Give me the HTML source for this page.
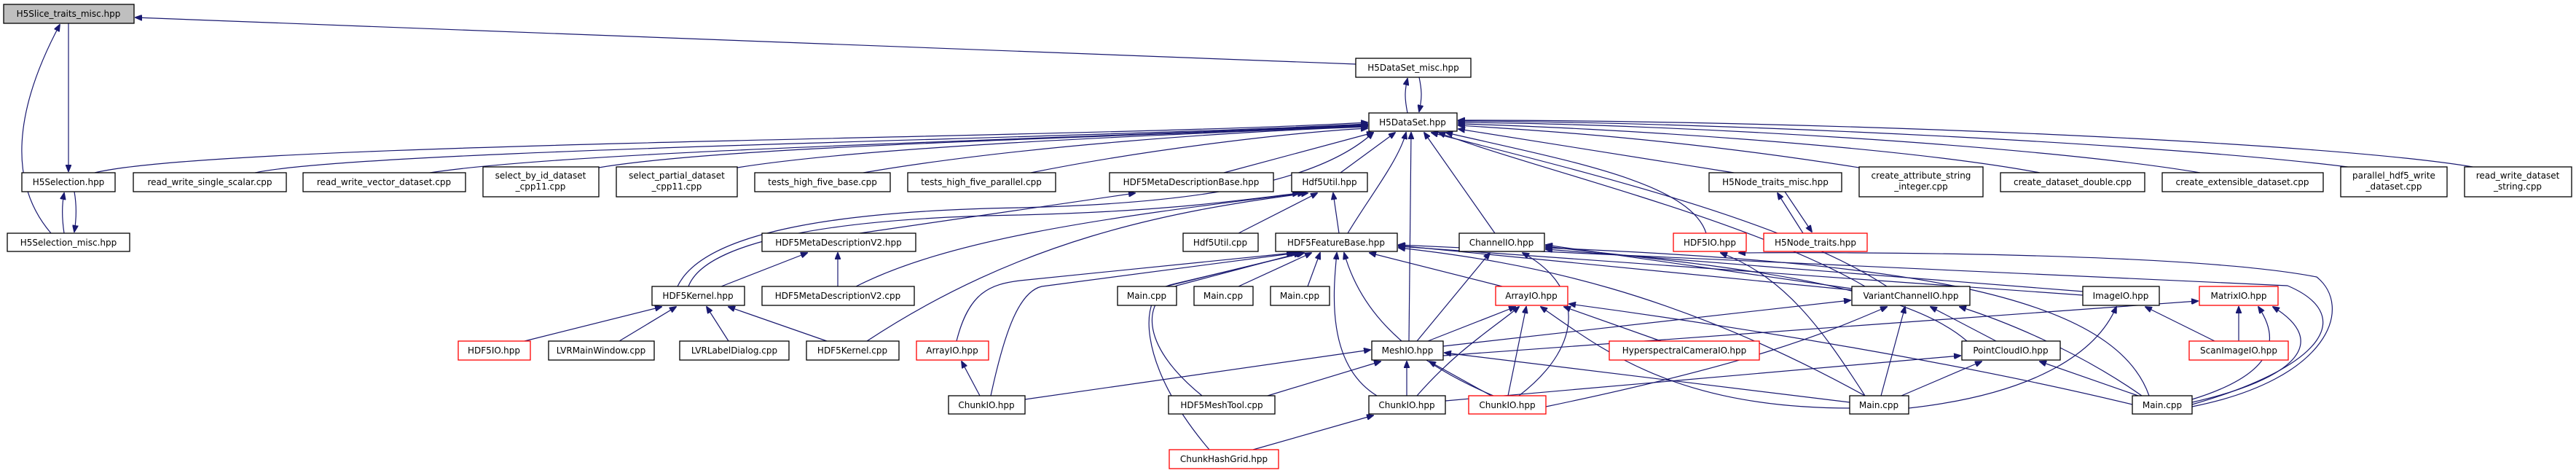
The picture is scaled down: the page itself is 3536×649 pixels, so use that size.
<!DOCTYPE html>
<html><head><meta charset="utf-8"><style>
html,body{margin:0;padding:0;background:#fff;}
svg{display:block;}
text{font-family:"DejaVu Sans","Liberation Sans",sans-serif;font-size:12px;fill:#000;text-anchor:middle;}
.n{fill:#fff;stroke:#000;stroke-width:1.3;}
.r{fill:#fff;stroke:#ff0000;stroke-width:1.3;}
.g{fill:#bfbfbf;stroke:#000;stroke-width:1.3;}
path{fill:none;stroke:#191970;stroke-width:1.2;marker-end:url(#ah);}
</style></head><body>
<svg width="3536" height="649" viewBox="0 0 3536 649" xmlns="http://www.w3.org/2000/svg">
<defs><marker id="ah" markerWidth="10" markerHeight="8" refX="9" refY="4" orient="auto" markerUnits="userSpaceOnUse"><polygon points="0,0 10,4 0,8" fill="#191970" stroke="#191970"/></marker></defs>
<g>
<path d="M1861,88 L186,24"/>
<path d="M94,32 L94,235"/>
<path d="M70,320 C10,250 20,150 82,34"/>
<path d="M88,320 C85,300 85,280 88,265"/>
<path d="M102,263 C105,280 105,300 102,318"/>
<path d="M1932,155 C1928,135 1928,125 1932,108"/>
<path d="M1948,106 C1952,125 1952,135 1948,153"/>
<path d="M130,237 C300,195 1500,190 1877,168"/>
<path d="M350,237 C500,205 1500,190 1877,170"/>
<path d="M590,237 C800,205 1500,190 1877,171"/>
<path d="M822,230 C1000,200 1500,190 1877,172"/>
<path d="M1012,230 C1200,200 1600,185 1877,173"/>
<path d="M1185,237 C1400,200 1700,180 1877,174"/>
<path d="M1415,237 C1600,200 1800,180 1877,176"/>
<path d="M1680,237 L1885,182"/>
<path d="M1840,237 L1915,182"/>
<path d="M2380,237 L2002,177"/>
<path d="M2552,230 C2300,190 2100,178 2002,172"/>
<path d="M2800,237 C2600,200 2200,175 2002,170"/>
<path d="M3020,237 C2800,200 2300,170 2002,168"/>
<path d="M3230,230 C3000,200 2400,168 2002,166"/>
<path d="M3400,230 C3200,195 2500,165 2002,165"/>
<path d="M1850,320 C1880,270 1920,220 1930,182"/>
<path d="M2052,320 L1955,182"/>
<path d="M2342,320 C2320,250 2150,220 1985,182"/>
<path d="M1934,468 L1937,182"/>
<path d="M2560,393 C2400,300 2100,230 1975,182"/>
<path d="M2590,393 C2450,300 2150,230 1965,182"/>
<path d="M930,393 C960,330 1100,290 1400,285 C1600,280 1800,260 1885,182"/>
<path d="M945,393 C965,340 1100,300 1400,295 C1600,290 1700,275 1783,265"/>
<path d="M1180,320 L1558,265"/>
<path d="M1150,393 L1150,347"/>
<path d="M990,393 L1108,347"/>
<path d="M720,468 L908,421"/>
<path d="M850,468 L928,421"/>
<path d="M1000,468 L970,421"/>
<path d="M1135,468 L1000,421"/>
<path d="M1190,468 C1400,330 1600,290 1795,265"/>
<path d="M1175,393 C1300,330 1500,300 1790,265"/>
<path d="M1700,320 L1808,265"/>
<path d="M1838,320 L1830,265"/>
<path d="M1600,393 L1788,347"/>
<path d="M1700,393 L1800,347"/>
<path d="M1795,393 L1812,347"/>
<path d="M1313,468 C1330,400 1360,390 1400,385 L1775,347"/>
<path d="M1360,543 C1380,450 1400,400 1430,393 L1780,347"/>
<path d="M1650,543 C1560,470 1570,410 1615,392 L1785,347"/>
<path d="M1660,617 C1560,500 1560,400 1610,390 L1790,347"/>
<path d="M2062,393 L1880,347"/>
<path d="M1890,543 C1820,500 1830,400 1835,347"/>
<path d="M2050,543 C1900,480 1860,400 1845,347"/>
<path d="M2542,398 L1920,337"/>
<path d="M2560,543 C2300,400 2100,360 1920,340"/>
<path d="M2859,405 L1920,338"/>
<path d="M3009,555 C3200,500 3230,430 3140,392 L1920,336"/>
<path d="M1945,468 L2045,347"/>
<path d="M2085,543 C2180,470 2170,390 2090,347"/>
<path d="M2542,396 L2122,336"/>
<path d="M2700,468 C2600,380 2300,360 2122,338"/>
<path d="M2950,543 C2900,400 2600,360 2122,340"/>
<path d="M2860,400 L2122,342"/>
<path d="M1960,468 L2080,421"/>
<path d="M1945,543 C2000,480 2050,450 2085,421"/>
<path d="M2070,543 L2095,421"/>
<path d="M2540,560 C2300,560 2200,480 2115,421"/>
<path d="M2280,468 L2147,421"/>
<path d="M2927,555 C2700,500 2400,450 2154,417"/>
<path d="M1981,475 L2540,412"/>
<path d="M2582,543 L2615,421"/>
<path d="M2122,558 C2400,500 2500,460 2590,421"/>
<path d="M2740,468 L2650,421"/>
<path d="M2940,543 C2850,480 2750,440 2690,421"/>
<path d="M1931,543 L1931,496"/>
<path d="M2047,543 L1962,496"/>
<path d="M1407,548 L1881,480"/>
<path d="M1740,543 L1895,496"/>
<path d="M2539,552 L1983,484"/>
<path d="M1345,543 L1320,496"/>
<path d="M1720,617 L1885,570"/>
<path d="M1984,550 L2691,488"/>
<path d="M2610,543 L2720,496"/>
<path d="M2935,543 L2800,496"/>
<path d="M2620,560 C2800,540 2880,480 2905,421"/>
<path d="M3040,468 L2945,421"/>
<path d="M3073,468 L3073,421"/>
<path d="M3009,548 C3100,520 3140,480 3100,421"/>
<path d="M3009,552 C3150,520 3200,470 3120,421"/>
<path d="M1981,488 L3017,413"/>
<path d="M3009,558 C3200,520 3230,420 3180,380 C3000,345 2500,346 2387,347"/>
<path d="M2560,543 C2500,450 2450,380 2362,347"/>
<path d="M2475,320 L2440,265"/>
<path d="M2450,263 L2487,318"/>
</g>
<g>
<rect class="g" x="5" y="6" width="179" height="26"/><text x="94" y="23">H5Slice_traits_misc.hpp</text>
<rect class="n" x="1861" y="80" width="158" height="26"/><text x="1940" y="97">H5DataSet_misc.hpp</text>
<rect class="n" x="1879" y="155" width="121" height="25"/><text x="1939" y="172">H5DataSet.hpp</text>
<rect class="n" x="30" y="237" width="128" height="26"/><text x="94" y="254">H5Selection.hpp</text>
<rect class="n" x="183" y="237" width="210" height="26"/><text x="288" y="254">read_write_single_scalar.cpp</text>
<rect class="n" x="416" y="237" width="223" height="26"/><text x="527" y="254">read_write_vector_dataset.cpp</text>
<rect class="n" x="663" y="229" width="159" height="41"/><text x="742" y="245">select_by_id_dataset</text><text x="742" y="260">_cpp11.cpp</text>
<rect class="n" x="846" y="229" width="166" height="41"/><text x="929" y="245">select_partial_dataset</text><text x="929" y="260">_cpp11.cpp</text>
<rect class="n" x="1036" y="237" width="186" height="26"/><text x="1129" y="254">tests_high_five_base.cpp</text>
<rect class="n" x="1246" y="237" width="203" height="26"/><text x="1347" y="254">tests_high_five_parallel.cpp</text>
<rect class="n" x="1523" y="237" width="225" height="26"/><text x="1635" y="254">HDF5MetaDescriptionBase.hpp</text>
<rect class="n" x="1773" y="237" width="104" height="26"/><text x="1825" y="254">Hdf5Util.hpp</text>
<rect class="n" x="2346" y="237" width="182" height="26"/><text x="2437" y="254">H5Node_traits_misc.hpp</text>
<rect class="n" x="2552" y="229" width="170" height="41"/><text x="2637" y="245">create_attribute_string</text><text x="2637" y="260">_integer.cpp</text>
<rect class="n" x="2746" y="237" width="198" height="26"/><text x="2845" y="254">create_dataset_double.cpp</text>
<rect class="n" x="2968" y="237" width="221" height="26"/><text x="3078" y="254">create_extensible_dataset.cpp</text>
<rect class="n" x="3213" y="229" width="146" height="41"/><text x="3286" y="245">parallel_hdf5_write</text><text x="3286" y="260">_dataset.cpp</text>
<rect class="n" x="3383" y="229" width="147" height="41"/><text x="3456" y="245">read_write_dataset</text><text x="3456" y="260">_string.cpp</text>
<rect class="n" x="10" y="320" width="168" height="25"/><text x="94" y="337">H5Selection_misc.hpp</text>
<rect class="n" x="1046" y="320" width="211" height="25"/><text x="1151" y="337">HDF5MetaDescriptionV2.hpp</text>
<rect class="n" x="1624" y="320" width="103" height="25"/><text x="1675" y="337">Hdf5Util.cpp</text>
<rect class="n" x="1751" y="320" width="167" height="25"/><text x="1834" y="337">HDF5FeatureBase.hpp</text>
<rect class="n" x="2003" y="320" width="117" height="25"/><text x="2061" y="337">ChannelIO.hpp</text>
<rect class="r" x="2297" y="320" width="100" height="25"/><text x="2347" y="337">HDF5IO.hpp</text>
<rect class="r" x="2421" y="320" width="142" height="25"/><text x="2492" y="337">H5Node_traits.hpp</text>
<rect class="n" x="895" y="393" width="127" height="26"/><text x="958" y="410">HDF5Kernel.hpp</text>
<rect class="n" x="1046" y="393" width="209" height="26"/><text x="1150" y="410">HDF5MetaDescriptionV2.cpp</text>
<rect class="n" x="1534" y="393" width="81" height="26"/><text x="1574" y="410">Main.cpp</text>
<rect class="n" x="1639" y="393" width="81" height="26"/><text x="1679" y="410">Main.cpp</text>
<rect class="n" x="1744" y="393" width="81" height="26"/><text x="1784" y="410">Main.cpp</text>
<rect class="r" x="2053" y="393" width="99" height="26"/><text x="2102" y="410">ArrayIO.hpp</text>
<rect class="n" x="2542" y="393" width="162" height="26"/><text x="2623" y="410">VariantChannelIO.hpp</text>
<rect class="n" x="2859" y="393" width="105" height="26"/><text x="2911" y="410">ImageIO.hpp</text>
<rect class="r" x="3019" y="393" width="108" height="26"/><text x="3073" y="410">MatrixIO.hpp</text>
<rect class="r" x="629" y="468" width="99" height="26"/><text x="678" y="485">HDF5IO.hpp</text>
<rect class="n" x="753" y="468" width="145" height="26"/><text x="825" y="485">LVRMainWindow.cpp</text>
<rect class="n" x="933" y="468" width="150" height="26"/><text x="1008" y="485">LVRLabelDialog.cpp</text>
<rect class="n" x="1107" y="468" width="127" height="26"/><text x="1170" y="485">HDF5Kernel.cpp</text>
<rect class="r" x="1258" y="468" width="99" height="26"/><text x="1307" y="485">ArrayIO.hpp</text>
<rect class="n" x="1883" y="468" width="98" height="26"/><text x="1932" y="485">MeshIO.hpp</text>
<rect class="r" x="2209" y="468" width="206" height="26"/><text x="2312" y="485">HyperspectralCameraIO.hpp</text>
<rect class="n" x="2693" y="468" width="135" height="26"/><text x="2760" y="485">PointCloudIO.hpp</text>
<rect class="r" x="3005" y="468" width="136" height="26"/><text x="3073" y="485">ScanImageIO.hpp</text>
<rect class="n" x="1302" y="543" width="105" height="25"/><text x="1354" y="560">ChunkIO.hpp</text>
<rect class="n" x="1604" y="543" width="146" height="25"/><text x="1677" y="560">HDF5MeshTool.cpp</text>
<rect class="n" x="1879" y="543" width="105" height="25"/><text x="1931" y="560">ChunkIO.hpp</text>
<rect class="r" x="2016" y="543" width="106" height="25"/><text x="2069" y="560">ChunkIO.hpp</text>
<rect class="n" x="2539" y="543" width="81" height="25"/><text x="2579" y="560">Main.cpp</text>
<rect class="n" x="2927" y="543" width="82" height="25"/><text x="2968" y="560">Main.cpp</text>
<rect class="r" x="1605" y="617" width="150" height="26"/><text x="1680" y="634">ChunkHashGrid.hpp</text>
</g>
</svg>
</body></html>
